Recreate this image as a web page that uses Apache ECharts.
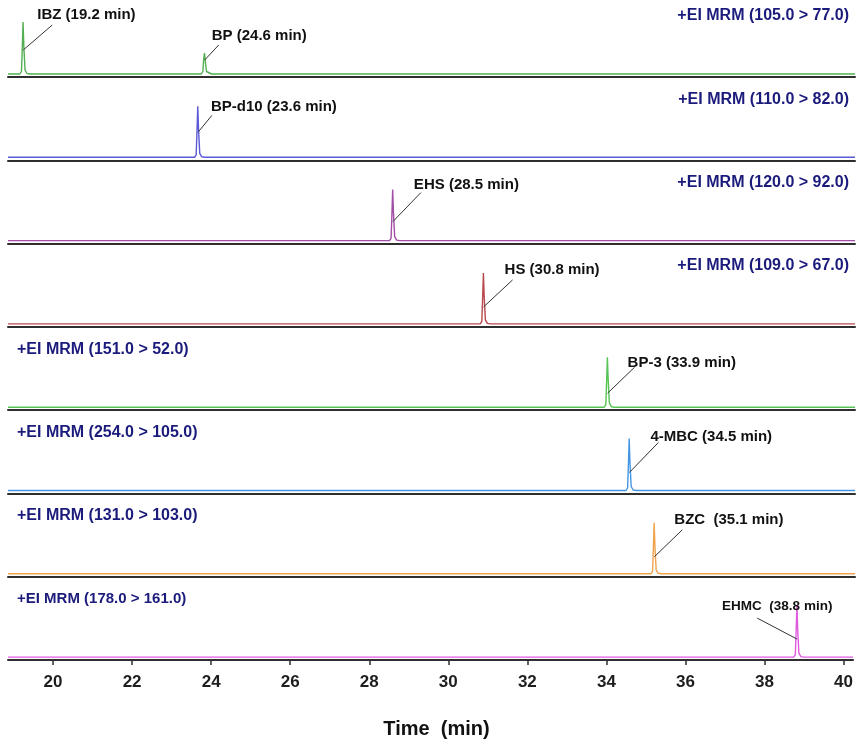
<!DOCTYPE html>
<html>
<head>
<meta charset="utf-8">
<script src="https://cdn.jsdelivr.net/npm/echarts@6/dist/echarts.min.js"></script>
<style>
  html, body { margin: 0; padding: 0; background: #fff; }
  #chart { width: 856px; height: 744px; }
</style>
</head>
<body>
<div id="chart"></div>
<script>
// chromatogram panels (MRM), one grid per transition
var chart = echarts.init(document.getElementById('chart'));

// time window of the run (min) and the bottom axis ticks
var timeRange = [18.86, 40.24];
var tickValues = [20, 22, 24, 26, 28, 30, 32, 34, 36, 38, 40];

// MRM transition of each panel
var transitions = [
  '+EI MRM (105.0 > 77.0)',
  '+EI MRM (110.0 > 82.0)',
  '+EI MRM (120.0 > 92.0)',
  '+EI MRM (109.0 > 67.0)',
  '+EI MRM (151.0 > 52.0)',
  '+EI MRM (254.0 > 105.0)',
  '+EI MRM (131.0 > 103.0)',
  '+EI MRM (178.0 > 161.0)'
];
var traceColors = ['#52b052', '#5a5ad8', '#a24ea8', '#b9484e', '#55c455', '#4496e2', '#f0a24c', '#e05ae0'];

// traces: [time (min), relative intensity]
var trace1 = [[18.86, 0], [19.16, 0], [19.2, 0.05], [19.22, 0.5], [19.24, 1.04], [19.26, 0.55], [19.29, 0.08], [19.34, 0.01], [19.42, 0],
  [23.74, 0], [23.78, 0.05], [23.8, 0.3], [23.82, 0.42], [23.84, 0.26], [23.87, 0.05], [23.92, 0.01], [24.0, 0], [40.24, 0]];
var trace2 = [[18.86, 0], [23.57, 0], [23.61, 0.05], [23.63, 0.5], [23.65, 1.02], [23.67, 0.55], [23.7, 0.08], [23.75, 0.01], [23.83, 0], [40.24, 0]];
var trace3 = [[18.86, 0], [28.49, 0], [28.53, 0.05], [28.55, 0.5], [28.57, 1.02], [28.59, 0.55], [28.62, 0.08], [28.67, 0.01], [28.75, 0], [40.24, 0]];
var trace4 = [[18.86, 0], [30.78, 0], [30.82, 0.05], [30.84, 0.5], [30.86, 1.02], [30.88, 0.55], [30.91, 0.08], [30.96, 0.01], [31.04, 0], [40.24, 0]];
var trace5 = [[18.86, 0], [33.91, 0], [33.95, 0.05], [33.97, 0.5], [33.99, 1.0], [34.01, 0.55], [34.04, 0.08], [34.09, 0.01], [34.17, 0], [40.24, 0]];
var trace6 = [[18.86, 0], [34.46, 0], [34.5, 0.05], [34.52, 0.5], [34.54, 1.04], [34.56, 0.55], [34.59, 0.08], [34.64, 0.01], [34.72, 0], [40.24, 0]];
var trace7 = [[18.86, 0], [35.09, 0], [35.13, 0.05], [35.15, 0.5], [35.17, 1.02], [35.19, 0.55], [35.22, 0.08], [35.27, 0.01], [35.35, 0], [40.24, 0]];
var trace8 = [[18.86, 0], [38.74, 0], [38.78, 0.05], [38.8, 0.5], [38.82, 1.04], [38.84, 0.55], [38.87, 0.08], [38.92, 0.01], [39.0, 0], [40.24, 0]];
var traces = [trace1, trace2, trace3, trace4, trace5, trace6, trace7, trace8];

// peak labels, the panel they sit in and where the leader line meets the peak
var peakNames = ['IBZ (19.2 min)', 'BP (24.6 min)', 'BP-d10 (23.6 min)', 'EHS (28.5 min)', 'HS (30.8 min)',
  'BP-3 (33.9 min)', '4-MBC (34.5 min)', 'BZC  (35.1 min)', 'EHMC  (38.8 min)'];
var peakPanel = [0, 0, 1, 2, 3, 4, 5, 6, 7];
var peakTime = [19.245, 23.825, 23.655, 28.575, 30.865, 33.995, 34.545, 35.175, 38.825];
var peakLevel = [0.48, 0.28, 0.5, 0.38, 0.34, 0.28, 0.36, 0.34, 0.36];

// label placement in pixels from the anchor: text left/middle, end of leader line
var labelOffset = [
  [14, -35, 29, -25], [7, -24, 14, -15], [13, -25, 14, -17], [21, -37, 28, -29], [21, -37, 29, -27],
  [20, -30, 27, -26], [21, -36, 29, -30], [20, -37, 28, -27], [-75, -33, -40, -21]
];

var lineY = [77, 160.3, 243.6, 326.9, 410.2, 493.5, 576.8, 660.1];
var gridH = 68;
var yRange = [-0.06, 1.3];
var pxPerMin = (856 - 9) / (timeRange[1] - timeRange[0]);
var pxPerUnit = gridH / (yRange[1] - yRange[0]);
var last = traces.length - 1;

var grid = [], xAxis = [], yAxis = [], title = [], series = [];

traces.forEach(function (tr, i) {
  grid.push({ left: 8, right: 1, top: lineY[i] - gridH, height: gridH });
  xAxis.push({
    type: 'value', gridIndex: i, min: timeRange[0], max: timeRange[1],
    axisLine: { show: true, onZero: false, lineStyle: { color: '#2e2e2e', width: 2 } },
    axisTick: i === last ? { show: true, customValues: tickValues, length: 5, lineStyle: { color: '#2e2e2e', width: 1.5 } } : { show: false },
    axisLabel: i === last ? {
      show: true, customValues: tickValues, margin: 14, color: '#1e1e1e',
      fontFamily: '"Liberation Sans", Arial, sans-serif', fontWeight: 'bold', fontSize: 17
    } : { show: false },
    splitLine: { show: false },
    name: i === last ? 'Time  (min)' : '',
    nameLocation: 'middle', nameGap: 59,
    nameTextStyle: { color: '#111', fontFamily: '"Liberation Sans", Arial, sans-serif', fontWeight: 'bold', fontSize: 20, padding: [0, 0, 0, 12] }
  });
  yAxis.push({ type: 'value', gridIndex: i, min: yRange[0], max: yRange[1], show: false });
  var t = {
    text: transitions[i], top: (i === 0 ? 8 : lineY[i] - 69), padding: 0,
    textStyle: { color: '#1b1b7c', fontFamily: '"Liberation Sans", Arial, sans-serif', fontWeight: 'bold', fontSize: i === last ? 15 : 16 }
  };
  if (i < 4) t.right = 7; else t.left = 17;
  title.push(t);
  series.push({
    type: 'line', xAxisIndex: i, yAxisIndex: i, data: tr,
    symbol: 'none', showSymbol: false, silent: true,
    lineStyle: { color: traceColors[i], width: 1.4 }
  });
});

peakNames.forEach(function (name, k) {
  var off = labelOffset[k];
  series.push({
    type: 'scatter', xAxisIndex: peakPanel[k], yAxisIndex: peakPanel[k],
    data: [[peakTime[k], peakLevel[k]]],
    symbolSize: 1, itemStyle: { color: 'rgba(0,0,0,0)' }, silent: true, z: 5,
    label: {
      show: true, position: 'right', formatter: name, color: '#111', opacity: 1, textBorderWidth: 0,
      fontFamily: '"Liberation Sans", Arial, sans-serif',
      fontWeight: 'bold', fontSize: k === 8 ? 13.5 : 15
    },
    labelLayout: function (p) {
      var cx = p.rect.x + p.rect.width / 2, cy = p.rect.y + p.rect.height / 2;
      return { x: cx + off[0], y: cy + off[1], align: 'left', verticalAlign: 'middle' };
    },
    // leader line from the peak to the label
    markLine: {
      silent: true, animation: false, symbol: ['none', 'none'], label: { show: false },
      lineStyle: { color: '#333', width: 1, type: 'solid' },
      data: [[
        { coord: [peakTime[k], peakLevel[k]] },
        { coord: [peakTime[k] + off[2] / pxPerMin, peakLevel[k] - off[3] / pxPerUnit] }
      ]]
    }
  });
});

var option = {
  animation: false,
  backgroundColor: '#fff',
  title: title,
  grid: grid,
  xAxis: xAxis,
  yAxis: yAxis,
  series: series
};

chart.setOption(option);
</script>
</body>
</html>
